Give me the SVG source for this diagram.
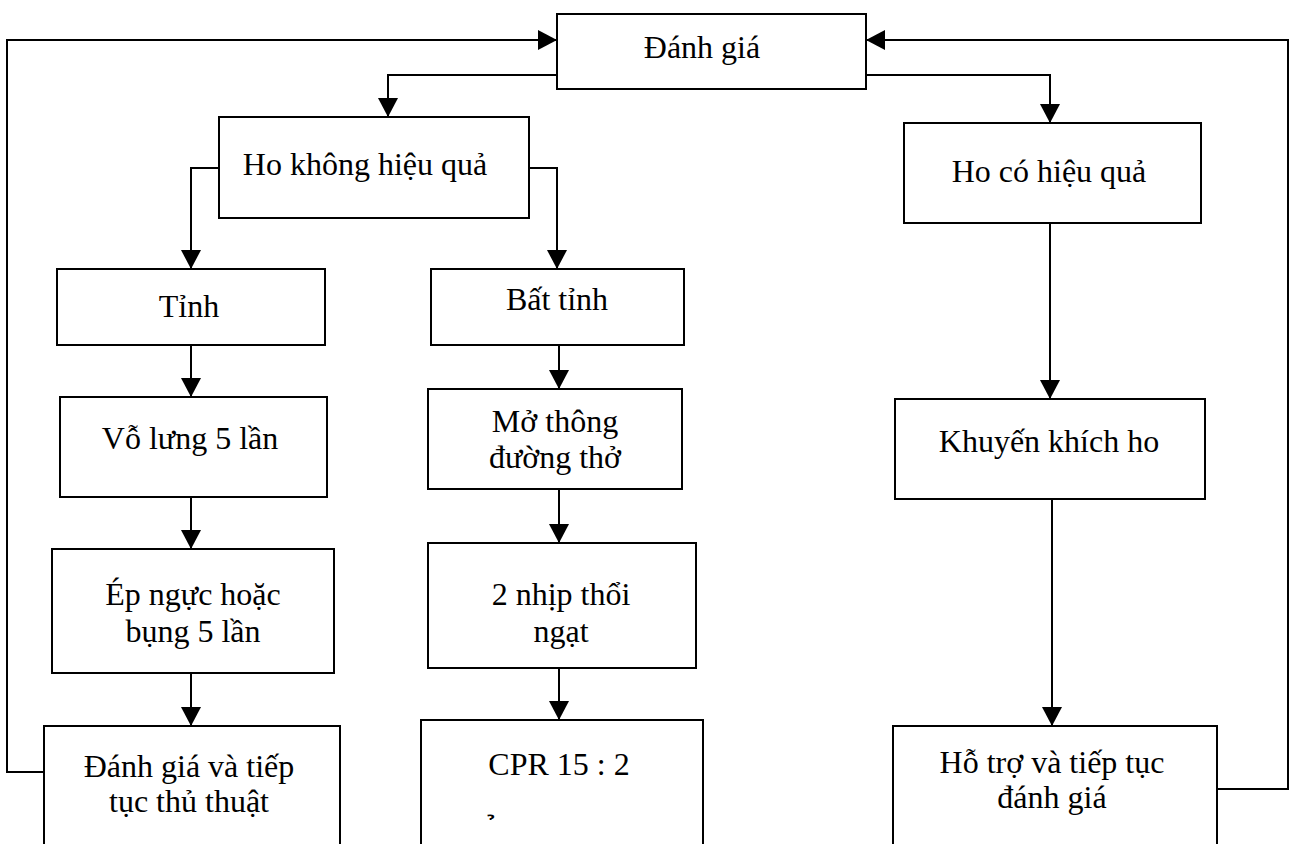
<svg xmlns="http://www.w3.org/2000/svg" width="1290" height="844" viewBox="0 0 1290 844">
<style>
.box{fill:#fff;stroke:#000;stroke-width:2}
.t{font-family:"Liberation Serif","Times New Roman",serif;font-size:32px;fill:#000;text-anchor:middle}
.c{fill:none;stroke:#000;stroke-width:2}
</style>
<defs>
<marker id="ah" viewBox="0 0 19 20" refX="19" refY="10" markerWidth="19" markerHeight="20" markerUnits="userSpaceOnUse" orient="auto">
<path d="M0,0 L19,10 L0,20 z" fill="#000"/>
</marker>
</defs>
<rect width="1290" height="844" fill="#fff"/>
<g id="connectors">
<path class="c" d="M44,772 H7 V40 H557" marker-end="url(#ah)"/>
<path class="c" d="M1217,789 H1288 V40 H866" marker-end="url(#ah)"/>
<path class="c" d="M557,75 H388 V117" marker-end="url(#ah)"/>
<path class="c" d="M866,75 H1050 V123" marker-end="url(#ah)"/>
<path class="c" d="M219,168 H191 V269" marker-end="url(#ah)"/>
<path class="c" d="M529,168 H557 V269" marker-end="url(#ah)"/>
<path class="c" d="M191,345 V397" marker-end="url(#ah)"/>
<path class="c" d="M191,497 V549" marker-end="url(#ah)"/>
<path class="c" d="M191,673 V726" marker-end="url(#ah)"/>
<path class="c" d="M559,345 V389" marker-end="url(#ah)"/>
<path class="c" d="M559,489 V543" marker-end="url(#ah)"/>
<path class="c" d="M559,668 V720" marker-end="url(#ah)"/>
<path class="c" d="M1050,223 V399" marker-end="url(#ah)"/>
<path class="c" d="M1052,499 V726" marker-end="url(#ah)"/>
</g>
<g id="danh-gia"><rect class="box" x="557" y="14" width="309" height="75"/><text class="t" x="702" y="58">Đánh giá</text></g>
<g id="ho-khong-hieu-qua"><rect class="box" x="219" y="117" width="310" height="101"/><text class="t" x="365" y="175">Ho không hiệu quả</text></g>
<g id="ho-co-hieu-qua"><rect class="box" x="904" y="123" width="297" height="100"/><text class="t" x="1049" y="182">Ho có hiệu quả</text></g>
<g id="tinh"><rect class="box" x="57" y="269" width="268" height="76"/><text class="t" x="189" y="317">Tỉnh</text></g>
<g id="vo-lung"><rect class="box" x="60" y="397" width="267" height="100"/><text class="t" x="190" y="449">Vỗ lưng 5 lần</text></g>
<g id="ep-nguc"><rect class="box" x="52" y="549" width="282" height="124"/><text class="t" x="193" y="605">Ép ngực hoặc</text><text class="t" x="193" y="642">bụng 5 lần</text></g>
<g id="danh-gia-tiep"><rect class="box" x="44" y="726" width="296" height="130"/><text class="t" x="189" y="777">Đánh giá và tiếp</text><text class="t" x="189" y="812">tục thủ thuật</text></g>
<g id="bat-tinh"><rect class="box" x="431" y="269" width="253" height="76"/><text class="t" x="557" y="310">Bất tỉnh</text></g>
<g id="mo-thong"><rect class="box" x="428" y="389" width="254" height="100"/><text class="t" x="555" y="432">Mở thông</text><text class="t" x="555" y="468">đường thở</text></g>
<g id="hai-nhip"><rect class="box" x="428" y="543" width="268" height="125"/><text class="t" x="561" y="605">2 nhịp thổi</text><text class="t" x="561" y="642">ngạt</text></g>
<g id="cpr"><rect class="box" x="421" y="720" width="282" height="136"/><text class="t" x="559" y="775">CPR 15 : 2</text><text class="t" x="487" y="843" style="text-anchor:start">&#xA0;&#x309;</text></g>
<g id="khuyen-khich"><rect class="box" x="895" y="399" width="310" height="100"/><text class="t" x="1049" y="452">Khuyến khích ho</text></g>
<g id="ho-tro"><rect class="box" x="893" y="726" width="324" height="130"/><text class="t" x="1052" y="773">Hỗ trợ và tiếp tục</text><text class="t" x="1052" y="808">đánh giá</text></g>
</svg>
